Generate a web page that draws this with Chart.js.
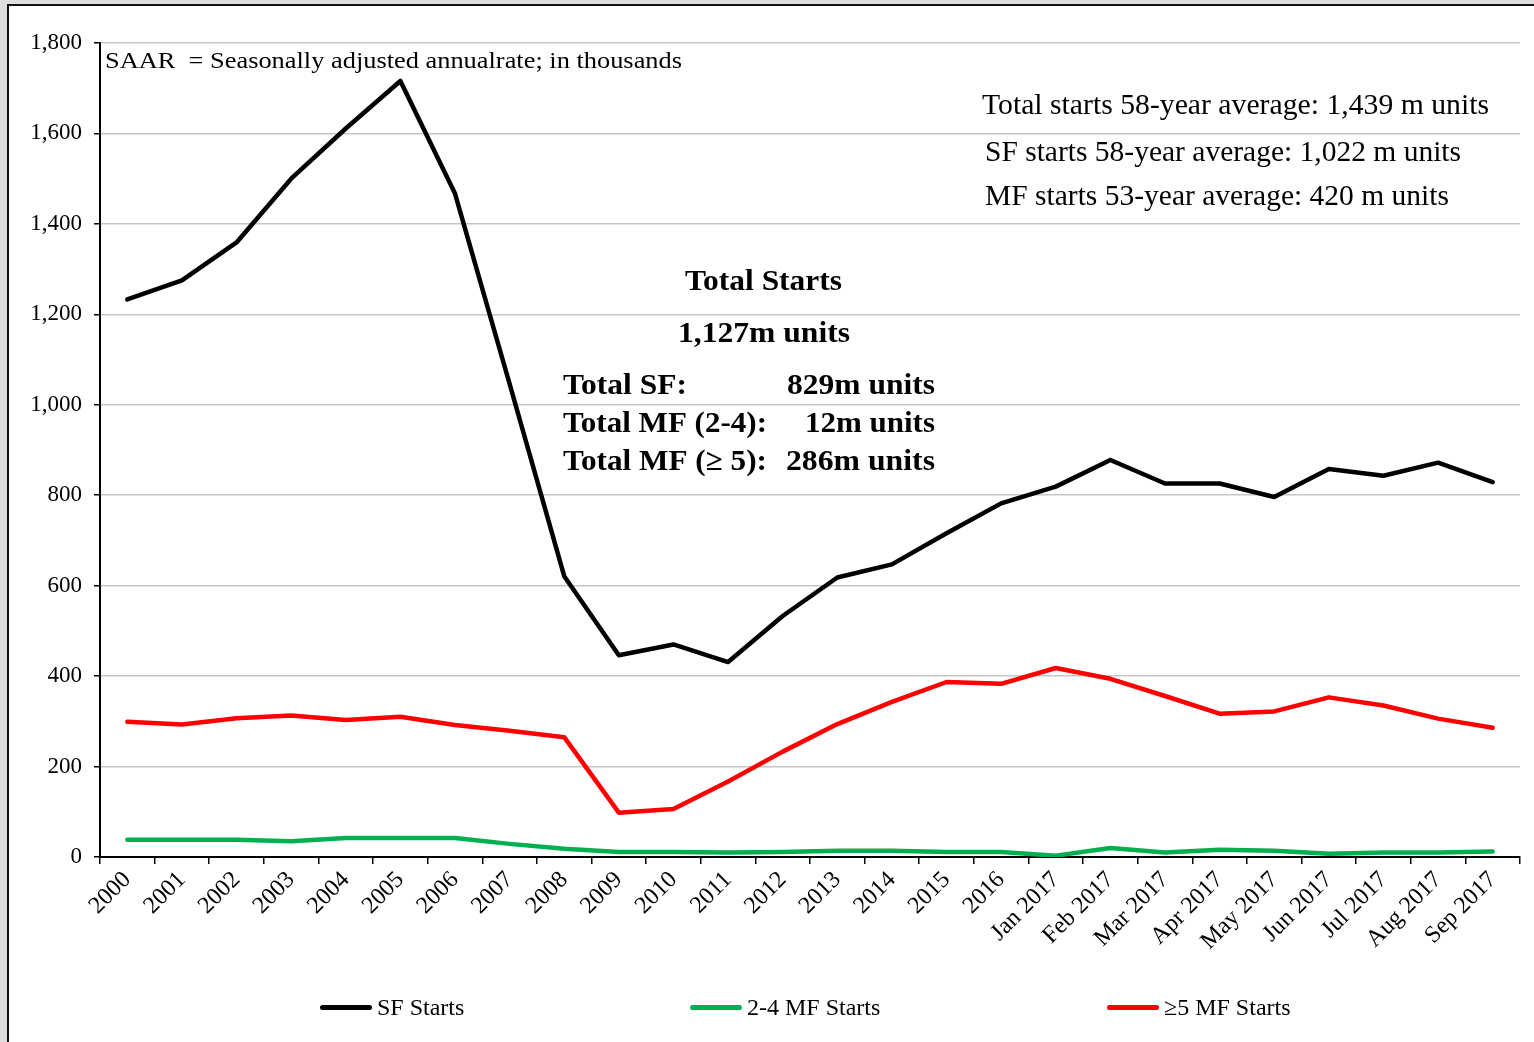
<!DOCTYPE html>
<html>
<head>
<meta charset="utf-8">
<script src="https://cdn.jsdelivr.net/npm/chart.js@4.4.1/dist/chart.umd.min.js"></script>
<style>
  html, body { margin: 0; padding: 0; width: 1534px; height: 1042px; overflow: hidden; background: #dedede; }
  #frame { position: absolute; left: 7px; top: 4px; width: 1600px; height: 1100px; background: #fff; border: 2px solid #111; box-sizing: border-box; }
  #c { position: absolute; left: 0; top: 0; }
  .lg { position: absolute; top: 992px; height: 30px; display: flex; align-items: center; font-family: "Liberation Serif", "Times New Roman", serif; font-size: 24px; color: #000; white-space: nowrap; }
  .lg .sw { width: 52px; height: 5px; border-radius: 3px; margin-right: 5px; }
</style>
</head>
<body>
<div id="frame"></div>
<canvas id="c" width="1534" height="1042"></canvas>
<div id="legend"></div>
<script>
// ---- data ----
const categories = ["2000","2001","2002","2003","2004","2005","2006","2007","2008","2009","2010","2011","2012","2013","2014","2015","2016",
  "Jan 2017","Feb 2017","Mar 2017","Apr 2017","May 2017","Jun 2017","Jul 2017","Aug 2017","Sep 2017"];
const sfStarts = [1233,1275,1359,1500,1611,1716,1467,1046,621,446,470,431,533,618,647,716,782,819,878,826,826,796,858,843,872,829];
const mf24Starts = [38,38,38,35,42,42,42,29,18,11,11,10,11,14,14,11,11,3,20,10,16,14,7,10,10,12];
const mf5Starts = [299,293,307,313,303,310,292,279,265,98,106,167,233,294,343,387,383,418,394,356,317,322,353,335,306,286];
const seriesNames = ["SF Starts", "2-4 MF Starts", "\u22655 MF Starts"];
const seriesColors = ["#000000", "#00b050", "#ff0000"];
const yTicks = { min: 0, max: 1800, step: 200 };
const unitNote = "SAAR  = Seasonally adjusted annualrate; in thousands";
const averageNotes = ["Total starts 58-year average: 1,439 m units", "SF starts 58-year average: 1,022 m units", "MF starts 53-year average: 420 m units"];
const headline = ["Total Starts", "1,127m units"];
const totalLabels = ["Total SF:", "Total MF (2-4):", "Total MF (\u2265 5):"];
const totalValues = ["829m units", "12m units", "286m units"];

// ---- layout constants (page pixels) ----
const SERIF = '"Liberation Serif", "Times New Roman", serif';
const legendLefts = [320, 690, 1107];

function fitText(ctx, text, x, y, font, width, align) {
  ctx.save();
  ctx.font = font;
  ctx.textBaseline = 'alphabetic';
  ctx.textAlign = 'left';
  const w = ctx.measureText(text).width;
  const sx = width / w;
  let left = x;
  if (align === 'center') left = x - width / 2;
  else if (align === 'right') left = x - width;
  ctx.translate(left, y);
  ctx.scale(sx, 1);
  ctx.fillStyle = '#000';
  ctx.fillText(text, 0, 0);
  ctx.restore();
}

const notesPlugin = {
  id: 'notes',
  afterDraw(chart) {
    const ctx = chart.ctx;
    fitText(ctx, unitNote, 105, 68, '24px ' + SERIF, 577, 'left');
    fitText(ctx, averageNotes[0], 982, 114, '29px ' + SERIF, 507, 'left');
    fitText(ctx, averageNotes[1], 985, 161, '29px ' + SERIF, 476, 'left');
    fitText(ctx, averageNotes[2], 985, 205, '29px ' + SERIF, 464, 'left');
    const B = 'bold 30px ' + SERIF;
    fitText(ctx, headline[0], 763.5, 290, B, 157, 'center');
    fitText(ctx, headline[1], 764, 342, B, 172, 'center');
    const lw = [124, 204, 204];
    const vw = [148, 130, 149];
    const base = [394, 432, 470];
    for (let i = 0; i < totalLabels.length; i++) {
      fitText(ctx, totalLabels[i], 563, base[i], B, lw[i], 'left');
      fitText(ctx, totalValues[i], 935, base[i], B, vw[i], 'right');
    }
  }
};

const datasets = [sfStarts, mf24Starts, mf5Starts].map((d, i) => ({
  label: seriesNames[i],
  data: d,
  borderColor: seriesColors[i],
  backgroundColor: seriesColors[i],
  borderWidth: 4.5,
  pointRadius: 0,
  tension: 0,
  borderJoinStyle: 'round',
  borderCapStyle: 'round',
  fill: false
}));

const chart = new Chart(document.getElementById('c'), {
  type: 'line',
  data: { labels: categories, datasets: datasets },
  options: {
    responsive: false,
    animation: false,
    layout: { padding: { left: 0, right: 14, top: 43, bottom: 75 } },
    plugins: { legend: { display: false }, tooltip: { enabled: false }, title: { display: false } },
    scales: {
      x: {
        type: 'category',
        offset: true,
        grid: { offset: true, drawOnChartArea: false, drawTicks: true, tickLength: 7, color: '#000', tickColor: '#000', lineWidth: 1.5 },
        border: { color: '#000', width: 2 },
        ticks: { autoSkip: false, maxRotation: 45, minRotation: 45, color: '#000', padding: 2,
                 font: { family: SERIF, size: 24 } },
        afterFit: s => { s.height = 110; }
      },
      y: {
        min: yTicks.min, max: yTicks.max,
        ticks: { stepSize: yTicks.step, color: '#000', padding: 12, font: { family: SERIF, size: 23 } },
        grid: { color: c => (c.tick && c.tick.value === 0) ? 'rgba(0,0,0,0)' : '#c6c6c6', lineWidth: 1.5, tickColor: '#000', tickLength: 6 },
        border: { color: '#000', width: 2 },
        afterFit: s => { s.width = 100; }
      }
    }
  },
  plugins: [notesPlugin]
});

// HTML legend built from the chart's datasets
const lg = document.getElementById('legend');
chart.data.datasets.forEach((ds, i) => {
  const item = document.createElement('div');
  item.className = 'lg';
  item.style.left = legendLefts[i] + 'px';
  const sw = document.createElement('span');
  sw.className = 'sw';
  sw.style.background = ds.borderColor;
  const tx = document.createElement('span');
  tx.textContent = ds.label;
  item.appendChild(sw);
  item.appendChild(tx);
  lg.appendChild(item);
});
</script>
</body>
</html>
